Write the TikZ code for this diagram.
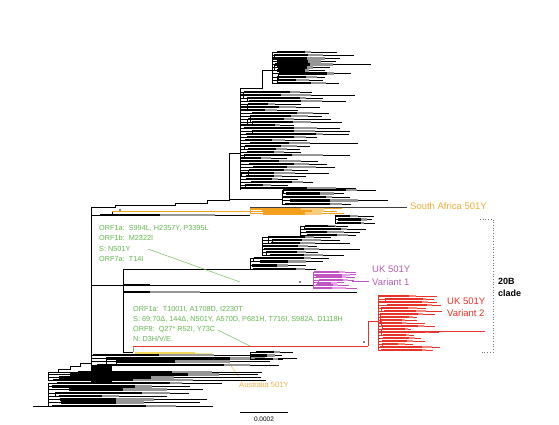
\documentclass[tikz,border=0pt]{standalone}
\usepackage{fontspec}
\setmainfont{Liberation Sans}
\definecolor{gtext}{RGB}{98,184,78}
\definecolor{grayb}{RGB}{150,150,150}
\definecolor{sadark}{RGB}{243,160,30}
\definecolor{salight}{RGB}{249,205,125}
\definecolor{salabel}{RGB}{240,172,55}
\definecolor{pinkd}{RGB}{195,85,195}
\definecolor{pinkl}{RGB}{228,165,228}
\definecolor{pinklabel}{RGB}{178,95,178}
\definecolor{redd}{RGB}{230,50,40}
\definecolor{redl}{RGB}{246,135,125}
\definecolor{yel}{RGB}{242,216,90}
\definecolor{auslabel}{RGB}{240,178,65}
\def\bfa{0.35}\def\bfb{0.35}
\newcommand\clade[9]{%
  \draw[#7,thinl] (#1,#2) -- (#1,#3);
  \pgfmathtruncatemacro\cladeN{#4-1}%
  \foreach \k in {0,...,\cladeN}{%
    \pgfmathsetmacro\yy{#2+(#3-#2)*\k/\cladeN}%
    \pgfmathsetmacro\xe{#5+rnd*(#6-#5)}%
    \pgfmathsetmacro\xs{#1+rnd*0.15*(\xe-#1)}%
    \pgfmathsetmacro\xm{\xs+(\xe-\xs)*(\bfa+\bfb*rnd)}%
    \pgfmathsetmacro\xg{\xm+(\xe-\xm)*(0.2+0.4*rnd)}%
    \pgfmathsetmacro\yv{min(\yy+(rnd<0.35)*3*(1+floor(2*rnd)),#3)}%
    \draw[#7,thinl] (#1,\yy) -- (\xe,\yy);
    \draw[#7,line width=#9] (\xs,\yy) -- (\xm,\yy);
    \draw[#8,line width=#9] (\xm,\yy) -- (\xg,\yy);
    \draw[#7,thinl] (\xs,\yy) -- (\xs,\yv);
  }%
}
\begin{document}
\begin{tikzpicture}[x=1pt,y=-1pt,
  thinl/.style={line width=0.45pt},
  mut/.style={font=\fontsize{7.3}{9}\selectfont, text=gtext, anchor=base west, inner sep=0pt},
  lab/.style={font=\fontsize{9.5}{11}\selectfont, anchor=base west, inner sep=0pt}]
\useasboundingbox (0,0) rectangle (559,424);
\pgfmathsetseed{4242}

% ---------- skeleton ----------
\draw[thinl] (33,406) -- (48,406);
\draw[thinl] (48,372) -- (58,372) -- (58,369) -- (70,369) -- (70,366) -- (80,366) -- (80,363) -- (91,363);
\draw[thinl] (91,363) -- (91,207);
\draw[thinl] (91,207) -- (115,207) -- (115,205) -- (175,205) -- (175,203) -- (207,203) -- (207,200) -- (229,200) -- (229,153) -- (240,153);
\draw[thinl] (240,88) -- (240,190);

% ---------- top clade ----------
\draw[thinl] (240,88) -- (262,88) -- (262,70) -- (272,70);
\clade{272}{52}{83}{11}{320}{378}{black}{grayb}{2.6}
\clade{240}{92}{188}{33}{285}{362}{black}{grayb}{2.6}
\draw[thinl] (229,199) -- (282,199);
\clade{282}{190}{204}{5}{335}{392}{black}{grayb}{2.6}

% ---------- South Africa ----------
\draw[thinl] (91,215) -- (112,215) -- (112,211);
\draw[line width=2pt] (100,215) -- (160,215);
\draw[grayb,line width=2pt] (160,215) -- (215,215);
\draw[thinl] (215,215) -- (250,215);
\draw[sadark,line width=0.8pt] (112,211) -- (250,211);
\clade{250}{208.5}{213.5}{3}{330}{345}{sadark}{salight}{2.6}
\fill (120,210) circle (0.9);
\coordinate (saend) at (250,207);
\coordinate (satip) at (407,207);
\draw[thinl,black!75] (saend) -- (satip);
\node[lab,text=salabel] (sa) at (410,209.5) {South Africa 501Y};

% ---------- middle clade ----------
\draw[thinl] (91,285) -- (313,285);
\draw[line width=2pt] (123,285) -- (150,285);
\draw[thinl] (123,269) -- (123,352);
\draw[thinl] (123,269) -- (250,269);
\clade{250}{258}{269}{4}{300}{330}{black}{grayb}{2.6}
\draw[thinl] (250,258) -- (262,258);
\clade{262}{237}{255}{7}{315}{360}{black}{grayb}{2.6}
\draw[thinl] (262,237) -- (300,237);
\clade{300}{226}{235}{4}{345}{372}{black}{grayb}{2.6}
\draw[thinl] (300,226) -- (335,226);
\clade{335}{216}{223}{3}{372}{392}{black}{grayb}{2.6}

% ---------- UK variant 1 ----------
\fill (300,282) circle (0.9);
\clade{313}{272}{288}{7}{340}{358}{pinkd}{pinkl}{1.8}
\coordinate (pk1) at (352,281);
\coordinate (pk2) at (369,281);
\draw[pinkd,thinl] (pk1) -- (pk2);
\node[lab,text=pinklabel] (uk1a) at (372,272.4) {UK 501Y};
\node[lab,text=pinklabel] (uk1b) at (372,285.4) {Variant 1};

\draw[thinl] (123,292) -- (357,292);
\draw[line width=2pt] (123,292) -- (150,292);
\draw[grayb,line width=2pt] (150,292) -- (200,292);

% ---------- UK variant 2 ----------
\draw[thinl] (123,352) -- (133,352);
\draw[grayb,thinl] (133,346) -- (133,352);
\draw[redd,thinl] (133,346) -- (368,346);
\fill (364,342) circle (0.9);
\draw[redd,thinl] (368,321) -- (368,346);
\draw[redd,thinl] (368,321) -- (378,321);
\def\bfa{0.5}\def\bfb{0.3}
\clade{378}{296}{350}{19}{410}{442}{redd}{redl}{2.7}
\def\bfa{0.35}\def\bfb{0.35}
\draw[redd,thinl] (378,331) -- (485,331);
\node[lab,text=redd] (uk2a) at (447,304.4) {UK 501Y};
\node[lab,text=redd] (uk2b) at (447,316.6) {Variant 2};

% ---------- Australia ----------
\draw[yel,line width=2.5pt] (135,353) -- (195,353);
\draw[yel!70,line width=1pt] (195,353) -- (212,353);
\coordinate (au1) at (222,354);
\coordinate (au2) at (240,378);
\draw[auslabel,thinl] (au1) -- (au2);
\node[font=\fontsize{7.6}{9}\selectfont, text=auslabel, anchor=base west, inner sep=0pt] (aus) at (239,387.7) {Australia 501Y};

% ---------- bottom clades ----------
\clade{91}{355}{365}{4}{250}{300}{black}{grayb}{2.4}
\clade{250}{352}{359}{3}{280}{295}{black}{grayb}{2.4}
\fill (91,366) rectangle (112,384);
\clade{48}{372}{380}{4}{250}{295}{black}{grayb}{2.6}
\clade{48}{383}{406}{8}{140}{225}{black}{grayb}{2.6}

% ---------- mutation annotations ----------
\node[mut] (m1a) at (99,230.5) {ORF1a:\ \ S994L, H2357Y, P3395L};
\node[mut] (m1b) at (99,240.9) {ORF1b:\ \ M2322I};
\node[mut] (m1c) at (99,251.2) {S: N501Y};
\node[mut] (m1d) at (99,261.6) {ORF7a:\ \ T14I};
\coordinate (g1a) at (148,249);
\coordinate (g1b) at (240,282);
\draw[gtext,thinl] (g1a) -- (g1b);

\node[mut] (m2a) at (133,311.6) {ORF1a:\ \ T1001I, A1708D, I2230T};
\node[mut] (m2b) at (133,321.6) {S: 69,70Δ, 144Δ, N501Y, A570D, P681H, T716I, S982A, D1118H};
\node[mut] (m2c) at (133,331.6) {ORF8:\ \ Q27* R52I, Y73C};
\node[mut] (m2d) at (133,341.6) {N: D3H/V/E.};
\coordinate (g2a) at (218,330);
\coordinate (g2b) at (250,346);
\draw[gtext,thinl] (g2a) -- (g2b);

% ---------- 20B bracket ----------
\coordinate (b1) at (480,219);
\coordinate (b2) at (493,219);
\coordinate (b3) at (493,352);
\coordinate (b4) at (481,352);
\draw[black!55,dotted,line width=0.7pt] (b1) -- (b2) -- (b3) -- (b4);
\node[lab,font=\fontsize{9}{11}\selectfont\bfseries] (c20b) at (498,284.3) {20B};
\node[lab,font=\fontsize{9}{11}\selectfont\bfseries] (clade) at (498,296.5) {clade};

% ---------- scale bar ----------
\coordinate (s1) at (240,412);
\coordinate (s2) at (288,412);
\draw[line width=0.6pt] (s1) -- (s2);
\node[font=\fontsize{6.5}{8}\selectfont, inner sep=0pt, anchor=base] (scale) at (264,421.3) {0.0002};
\end{tikzpicture}
\end{document}
